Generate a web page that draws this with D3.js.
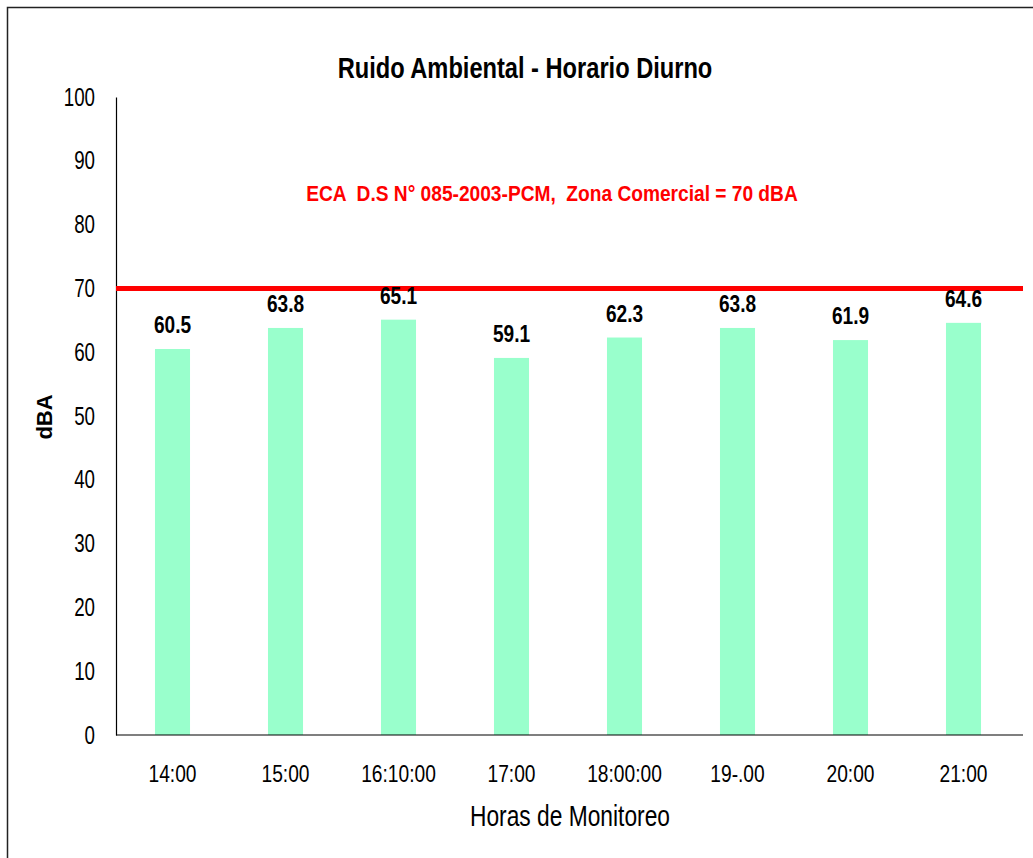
<!DOCTYPE html>
<html>
<head>
<meta charset="utf-8">
<script src="https://cdn.jsdelivr.net/npm/d3@7"></script>
<style>
  html, body { margin: 0; padding: 0; background: #fff; }
  svg { display: block; }
</style>
</head>
<body>
<svg id="chart" width="1033" height="858"></svg>
<script>
// Monitoring hours and measured daytime noise levels (dBA)
const categories = ["14:00", "15:00", "16:10:00", "17:00", "18:00:00", "19-.00", "20:00", "21:00"];
const values = [60.5, 63.8, 65.1, 59.1, 62.3, 63.8, 61.9, 64.6];
const yTicks = [0, 10, 20, 30, 40, 50, 60, 70, 80, 90, 100];
const limitValue = 70;
const limitLabel = "ECA  D.S N° 085-2003-PCM,  Zona Comercial = 70 dBA";

const svg = d3.select("#chart");
const sans = "'Liberation Sans', Arial, sans-serif";

// squeeze glyphs horizontally to get a condensed face
function condense(sel, factor) {
  sel.each(function () {
    const len = this.getComputedTextLength();
    d3.select(this).attr("textLength", len * factor).attr("lengthAdjust", "spacingAndGlyphs");
  });
}

// outer frame
svg.append("rect")
  .attr("x", 7.5).attr("y", 7.5)
  .attr("width", 1040).attr("height", 870)
  .attr("fill", "none").attr("stroke", "#222").attr("stroke-width", 1.5);

const x = d3.scaleBand().domain(categories).range([116, 1020])
  .paddingInner(0.69).paddingOuter(0.345);
const y = d3.scaleLinear().domain([0, 100]).range([735, 97]);

// bars
svg.append("g").selectAll("rect").data(values).join("rect")
  .attr("x", (d, i) => x(categories[i]))
  .attr("y", d => y(d))
  .attr("width", x.bandwidth())
  .attr("height", d => y(0) - y(d))
  .attr("fill", "#99FFCC");

// y axis
const yAxis = svg.append("g").attr("transform", "translate(116,0)")
  .call(d3.axisLeft(y).tickValues(yTicks).tickSize(0).tickPadding(21).tickFormat(d3.format("d")));
yAxis.select(".domain").attr("stroke", "#000").attr("stroke-width", 1.2);
yAxis.selectAll("text").attr("font-family", sans).attr("font-size", 25).attr("fill", "#000")
  .call(condense, 0.75);

// x axis
const xAxis = svg.append("g").attr("transform", "translate(0,735)")
  .call(d3.axisBottom(x).tickSize(0).tickPadding(30));
xAxis.select(".domain").attr("d", "M116,0H1023").attr("stroke", "#000").attr("stroke-width", 1.2);
xAxis.selectAll("text").attr("font-family", sans).attr("font-size", 24).attr("fill", "#000")
  .call(condense, 0.8);

// limit line
svg.append("line")
  .attr("x1", 116).attr("x2", 1023)
  .attr("y1", y(limitValue)).attr("y2", y(limitValue))
  .attr("stroke", "#FF0000").attr("stroke-width", 5);

// value labels
svg.append("g").selectAll("text").data(values).join("text")
  .attr("x", (d, i) => x(categories[i]) + x.bandwidth() / 2)
  .attr("y", d => y(d) - 16)
  .attr("text-anchor", "middle")
  .attr("font-family", sans).attr("font-weight", "bold").attr("font-size", 23)
  .attr("fill", "#000")
  .text(d => d.toFixed(1))
  .call(condense, 0.83);

// limit annotation
svg.append("text")
  .attr("x", 552).attr("y", 201)
  .attr("text-anchor", "middle")
  .attr("font-family", sans).attr("font-weight", "bold").attr("font-size", 22)
  .attr("fill", "#FF0000")
  .attr("xml:space", "preserve")
  .text(limitLabel)
  .call(condense, 0.87);

// title
svg.append("text")
  .attr("x", 525).attr("y", 78)
  .attr("text-anchor", "middle")
  .attr("font-family", sans).attr("font-weight", "bold").attr("font-size", 29)
  .attr("fill", "#000")
  .text("Ruido Ambiental - Horario Diurno")
  .call(condense, 0.815);

// axis titles
svg.append("text")
  .attr("transform", "translate(52,417) rotate(-90)")
  .attr("text-anchor", "middle")
  .attr("font-family", sans).attr("font-weight", "bold").attr("font-size", 22)
  .attr("fill", "#000")
  .text("dBA");

const xTitle = svg.append("text")
  .attr("x", 570).attr("y", 826)
  .attr("text-anchor", "middle")
  .attr("font-family", sans).attr("font-size", 29)
  .attr("fill", "#000")
  .text("Horas de Monitoreo");
xTitle.attr("textLength", 200).attr("lengthAdjust", "spacingAndGlyphs");
</script>
</body>
</html>
